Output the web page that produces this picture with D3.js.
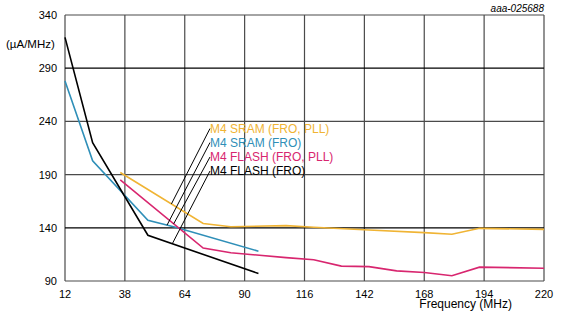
<!DOCTYPE html>
<html>
<head>
<meta charset="utf-8">
<script src="https://cdn.jsdelivr.net/npm/d3@7"></script>
<style>
  body { margin: 0; background: #fff; }
  svg { display: block; font-family: "Liberation Sans", Arial, sans-serif; }
</style>
</head>
<body>
<div id="chart"></div>
<script>
// data (frequency MHz, current µA/MHz)
const xTicks = [12, 38, 64, 90, 116, 142, 168, 194, 220];
const yTicks = [90, 140, 190, 240, 290, 340];

const sramPll = [[36, 192], [72, 144], [84, 141], [108, 142], [120, 140.5], [144, 138], [168, 135.5], [180, 134], [192, 139.5], [220, 138.5]];
const sramFro = [[12, 278], [24, 203], [48, 147], [60, 140.5], [96, 118]];
const flashPll = [[36, 185], [72, 121], [84, 116.5], [108, 112], [120, 110], [132, 104], [144, 103.5], [156, 99.5], [168, 98], [180, 95], [192, 103], [220, 102]];
const flashFro = [[12, 319], [24, 220], [48, 133], [96, 97]];

const seriesNames = ["M4 SRAM (FRO, PLL)", "M4 SRAM (FRO)", "M4 FLASH (FRO, PLL)", "M4 FLASH (FRO)"];
const seriesData = [sramPll, sramFro, flashPll, flashFro];
const colors = ["#f0b434", "#2f8fb8", "#d8266f", "#000000"];
// frequency where each legend leader line touches its curve
const leaderAt = [58.2, 56.3, 59.2, 58.6];

const width = 567, height = 321;
const margin = { top: 15, right: 23, bottom: 40, left: 65 };

const svg = d3.select("#chart")
  .append("svg")
  .attr("width", width)
  .attr("height", height);

const x = d3.scaleLinear().domain([12, 220]).range([margin.left, width - margin.right]);
const y = d3.scaleLinear().domain([90, 340]).range([height - margin.bottom, margin.top]);

// grid
svg.append("g")
  .selectAll("line")
  .data(xTicks)
  .join("line")
  .attr("x1", d => x(d)).attr("x2", d => x(d))
  .attr("y1", y(90)).attr("y2", y(340))
  .attr("stroke", "#4a4a4a")
  .attr("stroke-width", 1.2);

svg.append("g")
  .selectAll("line")
  .data(yTicks)
  .join("line")
  .attr("x1", x(12)).attr("x2", x(220))
  .attr("y1", d => y(d)).attr("y2", d => y(d))
  .attr("stroke", d => (d === 290 || d === 140) ? "#000" : "#4a4a4a")
  .attr("stroke-width", 1.2);

// tick labels
svg.append("g")
  .selectAll("text")
  .data(yTicks)
  .join("text")
  .attr("x", margin.left - 8)
  .attr("y", d => y(d) + 4)
  .attr("text-anchor", "end")
  .attr("font-size", 11)
  .text(d => d);

svg.append("g")
  .selectAll("text")
  .data(xTicks)
  .join("text")
  .attr("x", d => x(d))
  .attr("y", y(90) + 17)
  .attr("text-anchor", "middle")
  .attr("font-size", 11)
  .text(d => d);

svg.append("text")
  .attr("x", 6)
  .attr("y", 48)
  .attr("font-size", 11.5)
  .text("(µA/MHz)");

svg.append("text")
  .attr("x", 512)
  .attr("y", 308)
  .attr("text-anchor", "end")
  .attr("font-size", 12)
  .text("Frequency (MHz)");

svg.append("text")
  .attr("x", 544)
  .attr("y", 12)
  .attr("text-anchor", "end")
  .attr("font-size", 10)
  .attr("font-style", "italic")
  .text("aaa-025688");

// curves
const line = d3.line().x(d => x(d[0])).y(d => y(d[1]));

svg.append("g")
  .selectAll("path")
  .data(seriesData)
  .join("path")
  .attr("d", line)
  .attr("fill", "none")
  .attr("stroke", (d, i) => colors[i])
  .attr("stroke-width", 1.6);

// legend labels with leader lines
const valueAt = (data, f) => {
  const i = d3.bisector(d => d[0]).right(data, f);
  const a = data[i - 1], b = data[i];
  return a[1] + (b[1] - a[1]) * (f - a[0]) / (b[0] - a[0]);
};

const labelX = 210;
const labelY = [128.5, 142.5, 157, 171];

svg.append("g")
  .selectAll("line")
  .data(seriesNames)
  .join("line")
  .attr("x1", labelX).attr("y1", (d, i) => labelY[i])
  .attr("x2", (d, i) => x(leaderAt[i]))
  .attr("y2", (d, i) => y(valueAt(seriesData[i], leaderAt[i])))
  .attr("stroke", "#000")
  .attr("stroke-width", 1);

svg.append("g")
  .selectAll("text")
  .data(seriesNames)
  .join("text")
  .attr("x", labelX)
  .attr("y", (d, i) => labelY[i] + 4)
  .attr("font-size", 12)
  .attr("fill", (d, i) => colors[i])
  .text(d => d);
</script>
</body>
</html>
